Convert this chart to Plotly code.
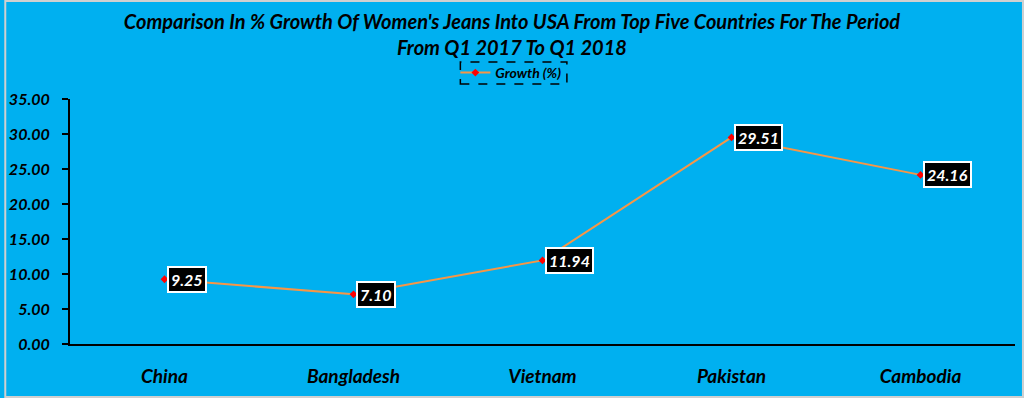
import plotly.graph_objects as go

categories = ["China", "Bangladesh", "Vietnam", "Pakistan", "Cambodia"]
growth = [9.25, 7.10, 11.94, 29.51, 24.16]
y_ticks = [0, 5, 10, 15, 20, 25, 30, 35]

FONT = "Lato"
BG = "#00B0F0"

fig = go.Figure()
fig.add_trace(go.Scatter(
    x=categories, y=growth, mode="lines+markers", name="Growth (%)",
    line=dict(color="#F79646", width=2),
    marker=dict(symbol="diamond", size=6, color="#FF0000"),
))

for c, v in zip(categories, growth):
    fig.add_annotation(
        x=c, y=v, text=f"<b><i>{v:.2f}</i></b>", showarrow=False,
        xanchor="left", yanchor="middle", xshift=2,
        bgcolor="black", bordercolor="white", borderwidth=2, borderpad=2,
        font=dict(family=FONT, size=16, color="white"),
    )

PW, PH = 949, 245
fig.update_layout(
    width=1024, height=398,
    paper_bgcolor=BG, plot_bgcolor=BG,
    margin=dict(l=66, r=9, t=99, b=54),
    title=dict(
        text="<b><i>Comparison In % Growth Of Women's Jeans Into USA From Top Five Countries For The Period<br>From Q1 2017 To Q1 2018</i></b>",
        x=0.5, xanchor="center", y=0.927, yanchor="top",
        font=dict(family=FONT, size=20, color="black"),
    ),
    showlegend=True,
    legend=dict(
        x=(453 - 66) / PW, xanchor="left", y=(344 - 73) / PH, yanchor="middle",
        orientation="h", bgcolor="rgba(0,0,0,0)",
        font=dict(family=FONT, size=14, color="black", weight="bold", style="italic"),
        itemwidth=30,
    ),
    xaxis=dict(
        range=[-0.5, 4.5],
        showgrid=False, showline=True, linecolor="black", linewidth=2,
        ticks="", ticklabelstandoff=14,
        tickfont=dict(family=FONT, size=19, color="black", weight="bold", style="italic"),
        fixedrange=True,
    ),
    yaxis=dict(
        range=[0, 35], tickvals=y_ticks, tickformat=".2f",
        showgrid=False, zeroline=False, showline=True, linecolor="black", linewidth=2,
        ticks="outside", ticklen=6, tickcolor="black", tickwidth=1.5,
        ticklabelstandoff=9,
        tickfont=dict(family=FONT, size=16, color="black", weight="bold", style="italic"),
    ),
    shapes=[
        dict(type="rect", xref="paper", yref="paper",
             x0=(458 - 66) / PW, x1=(565 - 66) / PW, y0=(344 - 84) / PH, y1=(344 - 62) / PH,
             line=dict(color="black", width=1.5, dash="dash")),
        dict(type="rect", xref="paper", yref="paper",
             x0=-65 / PW, x1=1 + 8 / PW, y0=-53 / PH, y1=1 + 98 / PH,
             line=dict(color="#D0D0D0", width=2)),
    ],
)

fig.write_html("out.html", config={"displayModeBar": False},
               post_script="document.body.style.margin='0';")
